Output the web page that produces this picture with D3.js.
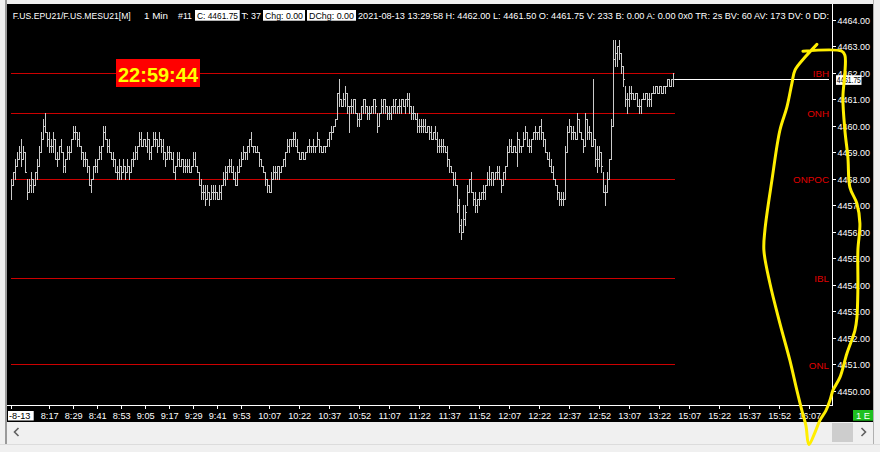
<!DOCTYPE html>
<html><head><meta charset="utf-8">
<script src="https://cdn.jsdelivr.net/npm/d3@7"></script>
<style>html,body{margin:0;padding:0;background:#f0f0f0;overflow:hidden}svg{display:block}</style>
</head><body>
<svg id="c" width="880" height="452"></svg>
<script>
// ---- data (prices in ticks of 0.25 above BASE) ----
const BASE = 4450, TICK = 0.25;
const highTicks = [
32,33,35,36,37,38,37,36,32,32, 33,32,33,35,37,39,41,42,39,39, 38,39,38,36,37,38,36,35,37,37,
38,40,40,39,39,37,36,36,35,34, 32,34,35,35,37,37,40,40,38,38, 36,36,35,34,35,34,35,34,35,34,
35,36,37,37,39,39,38,38,39,38, 37,39,39,38,39,38,38,36,37,37, 36,36,34,36,36,35,35,35,35,35,
34,36,36,34,33,32,31,31,31,30, 31,31,31,30,31,31,33,34,34,35, 35,34,33,34,35,36,37,36,37,38,
39,37,37,37,36,35,34,33,32,31, 33,34,34,34,34,34,35,36,38,38, 38,39,39,38,36,36,36,36,37,38,
37,38,37,39,38,37,37,37,38,39, 40,40,41,45,47,44,45,46,45,43, 44,44,44,42,42,43,44,44,43,43,
43,44,44,42,42,44,44,44,43,43, 43,44,44,43,44,44,44,44,45,45, 43,43,42,42,41,41,41,41,40,40,
40,39,40,39,38,38,38,37,37,35, 34,33,33,31,29,26,28,28,31,32, 33,30,30,29,30,30,31,31,33,34,
33,33,33,34,34,32,33,34,37,38, 38,37,37,39,38,37,39,40,39,38, 38,39,40,39,40,41,39,38,36,36,
35,34,32,31,30,30,30,37,40,41, 40,40,39,42,41,39,38,42,41,40, 39,47,38,37,37,36,33,31,33,35,
41,53,53,52,53,51,49,46,45,46, 46,45,45,45,44,44,45,45,45,45, 45,46,46,46,46,46,46,46,47,47,47,48];
const lowTicks = [
29,31,32,34,35,34,35,33,29,30, 30,30,31,32,34,36,38,39,37,36, 36,36,35,34,35,36,33,33,35,35,
36,38,38,37,37,35,34,34,33,31, 30,32,33,33,35,35,37,38,36,36, 35,34,33,32,32,32,33,32,33,32,
33,34,35,35,37,37,37,37,36,35, 35,37,37,36,37,36,35,34,35,35, 35,33,32,34,34,34,33,33,33,33,
33,34,34,33,31,29,29,28,29,28, 29,29,29,29,29,29,31,31,32,33, 33,32,31,31,33,34,35,35,35,36,
37,36,36,36,34,34,33,31,30,30, 30,32,32,32,32,33,34,34,36,36, 37,37,37,36,35,35,35,35,36,36,
36,36,36,37,36,36,36,36,37,37, 38,39,40,41,43,43,43,43,42,39, 42,42,42,40,40,41,42,42,41,41,
42,42,42,39,40,42,42,42,41,41, 41,42,42,42,42,42,43,42,43,42, 41,41,41,39,39,39,39,39,39,38,
38,38,38,36,36,36,36,36,34,33, 33,31,31,27,24,23,24,25,28,30, 30,28,27,27,28,29,29,29,31,31,
31,31,32,32,32,30,31,32,34,36, 36,36,36,34,36,36,37,38,37,36, 36,38,38,38,38,38,37,36,35,34,
33,32,31,29,28,28,28,29,36,39, 38,38,38,38,39,38,36,37,38,38, 37,37,34,33,34,33,30,28,30,32,
35,40,49,49,50,48,46,43,42,43, 44,44,44,43,42,42,44,44,43,43, 43,45,45,45,45,45,45,45,46,46,46,46];
const closeTicks = [
31,33,34,35,36,35,36,33,30,31, 32,31,33,34,36,38,40,39,38,37, 37,38,35,35,37,36,34,35,36,36,
38,39,39,38,37,36,35,35,34,31, 32,34,34,35,36,37,39,38,37,36, 35,35,33,33,34,33,34,33,34,33,
35,35,36,37,38,37,38,37,38,36, 37,38,38,37,38,37,36,35,36,36, 35,33,34,35,34,35,34,34,34,33,
34,35,34,33,31,30,30,29,30,29, 30,30,30,29,30,31,32,33,34,34, 33,32,31,33,34,35,36,36,37,38,
37,37,36,36,35,34,33,32,31,30, 32,33,33,34,33,34,35,36,37,38, 38,38,37,36,35,36,35,36,37,37,
37,37,37,38,37,36,37,37,38,39, 39,40,41,45,44,43,44,45,43,43, 43,44,42,41,41,43,44,43,42,42,
43,44,43,40,42,43,44,43,42,42, 43,43,44,43,43,44,43,44,44,43, 42,42,41,40,40,40,40,39,40,39,
38,39,38,37,37,37,37,36,35,34, 33,32,31,28,25,24,26,27,30,32, 30,29,28,29,29,30,30,31,32,32,
33,32,33,33,32,31,33,34,36,37, 36,37,36,38,37,37,38,39,37,37, 38,39,39,39,40,39,38,36,35,34,
33,32,31,30,29,29,29,36,39,40, 39,39,38,41,39,38,37,41,39,39, 37,38,35,35,36,34,30,30,32,35,
40,50,51,52,51,49,47,44,44,45, 45,44,45,43,43,44,44,45,44,44, 45,45,46,45,46,45,46,46,47,46,47,47];

const lastPrice = 4461.75;
const levelNames  = ["IBH", "ONH", "ONPOC", "IBL", "ONL"];
const levelPrices = [4462.0, 4460.5, 4458.0, 4454.25, 4451.0];

const yTicks = [4450,4451,4452,4453,4454,4455,4456,4457,4458,4459,4460,4461,4462,4463,4464];
const xTickLabels = ["-8-13","8:17","8:29","8:41","8:53","9:05","9:17","9:29","9:41","9:53","10:07","10:22","10:37","10:52","11:07","11:22","11:37","11:52","12:07","12:22","12:37","12:52","13:07","13:22","15:07","15:22","15:37","15:52","16:07"];
const xTickSlots  = [0,19,31,43,55,67,79,91,103,115,129,144,159,174,189,204,219,234,249,264,279,294,309,324,339,354,369,384,399];

// hand-drawn yellow annotation, in chart units (slot, price)
const annoSlots  = [402.6,396.6,391.6,390.1,387.6,384.1,380.1,376.6,376.1,379.1,384.1,389.1,392.6,395.1,397.1,398.6,401.6,404.1,407.1,409.1,410.6,414.1,417.6,421.6,422.6,423.1,423.1,424.1,422.6,419.1,418.1,416.6,415.6,416.6,416.6,415.1,395.6];
const annoPrices = [4463.09,4462.6,4462.11,4461.62,4460.72,4459.85,4457.96,4456.08,4455.32,4454.08,4452.57,4451.17,4450.04,4449.28,4448.72,4448.0,4448.45,4448.91,4449.28,4449.66,4450.04,4450.53,4451.43,4452.3,4452.79,4453.92,4455.32,4456.34,4457.09,4457.7,4458.83,4459.85,4461.09,4462.0,4462.68,4462.83,4462.83];

const titleMain = "F.US.EPU21/F.US.MESU21[M]";
const titleRest = "2021-08-13 13:29:58 H: 4462.00 L: 4461.50 O: 4461.75 V: 233 B: 0.00 A: 0.00 0x0 TR: 2s BV: 60 AV: 173 DV: 0 DD:";
const clockText = "22:59:44";

// ---- drawing ----
const FONT = "'Liberation Sans', Arial, sans-serif";
const svg = d3.select("#c");
const price = t => BASE + t * TICK;
const bars = highTicks.map((h, i) => ({i, h: price(h), l: price(lowTicks[i]), c: price(closeTicks[i])}));

const x = d3.scaleLinear().domain([0, 410]).range([11.7, 831.7]);
const y = d3.scaleLinear().domain([4450, 4464]).range([391.5, 20.2]);
const px = v => Math.floor(x(v));
const py = v => Math.floor(y(v));

// frame
svg.append("rect").attr("x",0).attr("y",0).attr("width",880).attr("height",452).attr("fill","#f0f0f0");
svg.append("rect").attr("x",5).attr("y",0).attr("width",2).attr("height",445).attr("fill","#9a9a9a");
svg.append("rect").attr("x",7).attr("y",4).attr("width",866).attr("height",418).attr("fill","#000");
svg.append("rect").attr("x",873).attr("y",0).attr("width",1).attr("height",445).attr("fill","#b0b0b0");
svg.append("rect").attr("x",0).attr("y",444).attr("width",880).attr("height",1).attr("fill","#dcdcdc");

// title bar
const tg = svg.append("g").attr("font-family", FONT);
const titleParts = [
  {t: titleMain, x: 12.7, w: 118, fs: 8.9, box: false},
  {t: "1 Min", x: 144, w: 24, fs: 9, box: false},
  {t: "#11", x: 178, w: 14, fs: 9, box: false},
  {t: "C: 4461.75", x: 197, w: 41, fs: 8.4, box: true, bx: 195, bw: 44.7},
  {t: "T: 37", x: 241.5, w: 19.5, fs: 8.6, box: false},
  {t: "Chg: 0.00", x: 265, w: 38, fs: 8.6, box: true, bx: 263, bw: 42},
  {t: "DChg: 0.00", x: 309, w: 45, fs: 8.6, box: true, bx: 307, bw: 49},
  {t: titleRest, x: 358, w: 471, fs: 8.8, box: false}
];
titleParts.forEach(p => {
  if (p.box) tg.append("rect").attr("x", p.bx).attr("y", 10).attr("width", p.bw).attr("height", 10.7).attr("fill", "#fff");
  tg.append("text").attr("x", p.x).attr("y", 19).attr("font-size", p.fs).attr("fill", p.box ? "#000" : "#fff")
    .attr("textLength", p.w).attr("lengthAdjust", "spacingAndGlyphs").text(p.t);
});

// level lines
const lx0 = px(0) - 0.5, lx1 = px(bars.length - 1) + 2;
svg.append("g").selectAll("line").data(levelPrices).join("line")
  .attr("x1", lx0).attr("x2", lx1)
  .attr("y1", d => py(d) + 0.5).attr("y2", d => py(d) + 0.5)
  .attr("stroke", "#cc0000").attr("stroke-width", 1).attr("shape-rendering", "crispEdges");

// level labels
svg.append("g").selectAll("text").data(levelNames).join("text")
  .attr("x", 829).attr("y", (d, i) => y(levelPrices[i]) + 3.6)
  .attr("text-anchor", "end").attr("fill", "#e00000")
  .attr("font-family", FONT).attr("font-size", 9.8).text(d => d);

// OHLC bars
const bg = svg.append("g").attr("fill", "#cacaca").attr("shape-rendering", "crispEdges");
bg.selectAll("rect.hl").data(bars).join("rect").attr("class", "hl")
  .attr("x", d => px(d.i)).attr("width", 1)
  .attr("y", d => py(d.h)).attr("height", d => Math.max(1, py(d.l) - py(d.h) + 1));
bg.selectAll("rect.cl").data(bars).join("rect").attr("class", "cl")
  .attr("x", d => px(d.i) + 1).attr("width", 1)
  .attr("y", d => py(d.c)).attr("height", 1);

// last price line
svg.append("line").attr("x1", px(bars.length - 1) + 2).attr("x2", 829)
  .attr("y1", py(lastPrice) + 0.5).attr("y2", py(lastPrice) + 0.5)
  .attr("stroke", "#fff").attr("shape-rendering", "crispEdges");

// clock
svg.append("rect").attr("x", 116).attr("y", 59).attr("width", 84).attr("height", 28).attr("fill", "#ff0000");
svg.append("text").attr("x", 158).attr("y", 81.5).attr("text-anchor", "middle")
  .attr("font-family", FONT).attr("font-weight", "bold").attr("font-size", 20)
  .attr("fill", "#ffff00").text(clockText);

// y axis
const ya = svg.append("g").attr("font-family", FONT).attr("font-size", 9.2);
ya.append("line").attr("x1", 832.5).attr("x2", 832.5).attr("y1", 4).attr("y2", 405.5).attr("stroke", "#fff").attr("shape-rendering", "crispEdges");
ya.selectAll("line.t").data(yTicks).join("line").attr("class", "t")
  .attr("x1", 832.5).attr("x2", 836).attr("y1", d => py(d) + 0.5).attr("y2", d => py(d) + 0.5)
  .attr("stroke", "#fff").attr("shape-rendering", "crispEdges");
ya.selectAll("text.l").data(yTicks).join("text").attr("class", "l")
  .attr("x", 837.5).attr("y", d => y(d) + 3.4).attr("fill", "#fff")
  .attr("textLength", 32.5).attr("lengthAdjust", "spacingAndGlyphs").text(d => d3.format(".2f")(d));
// last price box (covers part of the 4462.00 label, as in the original)
ya.append("rect").attr("x", 836).attr("y", y(lastPrice) - 4.6).attr("width", 25.5).attr("height", 9.6).attr("fill", "#fff");
ya.append("text").attr("x", 836.8).attr("y", y(lastPrice) + 3.4).attr("fill", "#000")
  .attr("font-size", 8.6).attr("textLength", 24).attr("lengthAdjust", "spacingAndGlyphs").text(d3.format(".2f")(lastPrice));

// x axis
const xa = svg.append("g").attr("font-family", FONT).attr("font-size", 9.2);
xa.append("line").attr("x1", 7).attr("x2", 832.5).attr("y1", 405.5).attr("y2", 405.5).attr("stroke", "#fff").attr("shape-rendering", "crispEdges");
xa.selectAll("line.t").data(xTickSlots).join("line").attr("class", "t")
  .attr("x1", d => px(d) + 0.5).attr("x2", d => px(d) + 0.5).attr("y1", 405.5).attr("y2", 409)
  .attr("stroke", "#fff").attr("shape-rendering", "crispEdges");
xa.append("rect").attr("x", 8).attr("y", 411).attr("width", 25.7).attr("height", 9.5).attr("fill", "#fff");
xa.selectAll("text").data(xTickLabels).join("text")
  .attr("x", (d, i) => i === 0 ? 9 : x(xTickSlots[i]))
  .attr("y", 419).attr("text-anchor", (d, i) => i === 0 ? "start" : "middle")
  .attr("fill", (d, i) => i === 0 ? "#000" : "#fff").text(d => d);

// "1 E" box
svg.append("rect").attr("x", 853).attr("y", 410).attr("width", 20).attr("height", 10.7).attr("fill", "#1fc01f");
svg.append("text").attr("x", 863).attr("y", 418.7).attr("text-anchor", "middle").attr("fill", "#fff")
  .attr("font-family", FONT).attr("font-size", 9.4).text("1 E");

// scrollbar
svg.append("rect").attr("x", 832).attr("y", 423).attr("width", 21).attr("height", 19).attr("fill", "#cdcdcd");
svg.append("path").attr("d", "M18.5,428L14.5,432L18.5,436").attr("fill", "none").attr("stroke", "#606060").attr("stroke-width", 1.6);
svg.append("path").attr("d", "M861.5,428L865.5,432L861.5,436").attr("fill", "none").attr("stroke", "#606060").attr("stroke-width", 1.6);

// yellow annotation
const anno = annoSlots.map((s, i) => [s, annoPrices[i]]);
svg.append("path").datum(anno)
  .attr("d", d3.line().x(d => x(d[0])).y(d => y(d[1])).curve(d3.curveCatmullRom))
  .attr("fill", "none").attr("stroke", "#ffee00").attr("stroke-width", 3)
  .attr("stroke-linecap", "round").attr("stroke-linejoin", "round");
</script>
</body></html>
